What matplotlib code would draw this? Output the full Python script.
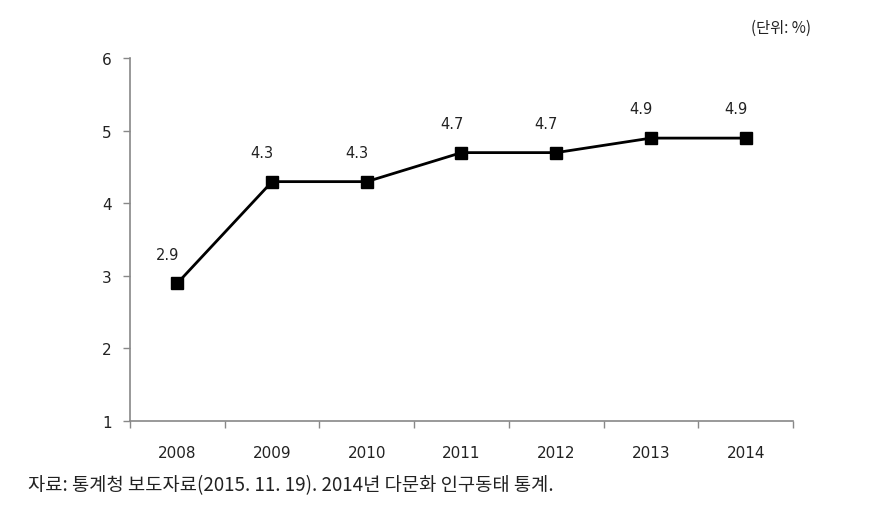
import matplotlib
matplotlib.use('Agg')
import numpy as np
from matplotlib import pyplot as plt

plt.rcParams['font.family'] = ['DejaVu Sans', 'Noto Sans CJK KR']

years = ['2008', '2009', '2010', '2011', '2012', '2013', '2014']
rates = [2.9, 4.3, 4.3, 4.7, 4.7, 4.9, 4.9]
y_ticks = [1, 2, 3, 4, 5, 6]
unit_text = '(단위: %)'
source_text = '자료: 통계청 보도자료(2015. 11. 19). 2014년 다문화 인구동태 통계.'

num_font = ['DejaVu Sans']
kr_font = ['Noto Sans CJK KR', 'DejaVu Sans']

fig = plt.figure(figsize=(8.88, 5.10), dpi=100)
ax = fig.add_axes([0.1464, 0.1725, 0.7466, 0.7112])

x = np.arange(len(years))
ax.plot(x, rates, color='black', linewidth=2, marker='s', markersize=8, zorder=3)
for xi, v in zip(x, rates):
    ax.annotate(f'{v}', (xi, v), xytext=(-7, 21), textcoords='offset points',
                ha='center', va='center', fontsize=10.5, color='#222222',
                family=num_font)

ax.set_xlim(-0.5, len(years) - 0.5)
ax.set_ylim(1, 6)
ax.set_yticks(y_ticks)
ax.set_yticklabels([str(t) for t in y_ticks], fontsize=11, family=num_font,
                   color='#222222')
ax.set_xticks(x)
ax.set_xticklabels(years, fontsize=11, family=num_font, color='#222222')
ax.set_xticks(np.arange(-0.5, len(years)), minor=True)
ax.tick_params(axis='x', which='major', length=0, pad=17)
ax.tick_params(axis='x', which='minor', length=5, color='#888888', width=1, direction='out')
ax.tick_params(axis='y', length=5, color='#888888', width=1, pad=8)

for s in ['top', 'right']:
    ax.spines[s].set_visible(False)
for s in ['left', 'bottom']:
    ax.spines[s].set_color('#888888')
    ax.spines[s].set_linewidth(1.2)

fig.text(0.913, 0.945, unit_text, ha='right', va='center', fontsize=11,
         family=kr_font, color='#222222')
fig.text(0.032, 0.048, source_text, ha='left', va='center', fontsize=13.5,
         family=kr_font, color='#222222')

fig.savefig('out.png', dpi=100)
